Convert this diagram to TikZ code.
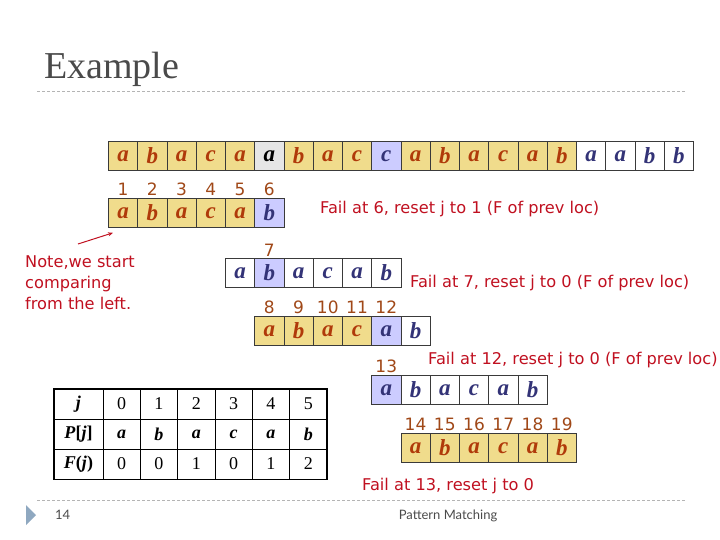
\documentclass[tikz,border=0pt]{standalone}
\usepackage{fontspec}
\setmainfont{Liberation Serif}
\newfontfamily\notefont{DejaVu Sans}
\newfontfamily\footfont{Lato}
\usepackage{xcolor}
\usepackage{tikz}
\usetikzlibrary{arrows.meta,positioning}
\tikzset{>=stealth}

\definecolor{matchfill}{HTML}{F0DC8C}
\definecolor{failfill}{HTML}{CCCCFF}
\definecolor{seenfill}{HTML}{E6E6E6}
\definecolor{cellline}{HTML}{3A3A3A}
\definecolor{matchink}{HTML}{B03A0A}
\definecolor{idleink}{HTML}{333377}
\definecolor{numink}{HTML}{A04818}
\definecolor{failink}{HTML}{C01020}
\definecolor{rulegray}{HTML}{B4B4B4}
\definecolor{titlegray}{HTML}{4A4A4A}
\definecolor{bullet}{HTML}{8FA8C0}

\begin{document}
\begin{tikzpicture}[
		x=1pt, y=-1pt,
		cell/.style={draw=cellline, line width=0.8pt, minimum width=29.25pt,
			minimum height=29pt, inner sep=0pt, anchor=north west,
			font=\fontsize{23}{23}\selectfont\bfseries\itshape},
		matchcell/.style={cell, fill=matchfill, text=matchink},
		failcell/.style={cell, fill=failfill, text=idleink},
		seencell/.style={cell, fill=seenfill, text=black},
		idlecell/.style={cell, fill=white, text=idleink},
		num/.style={font=\notefont\fontsize{17}{17}\selectfont, text=numink,
			anchor=base, inner sep=0pt},
		failnote/.style={font=\notefont\fontsize{16.2}{21}\selectfont, text=failink,
			anchor=base west, inner sep=0pt, align=left},
		tcell/.style={draw=black, line width=0.6pt, minimum width=37.33pt,
			minimum height=30pt, inner sep=0pt, font=\fontsize{18}{18}\selectfont},
		thead/.style={tcell, minimum width=49pt},
		rule/.style={rulegray, line width=0.7pt, dash pattern=on 3pt off 2pt}
		]
		\useasboundingbox (0,0) rectangle (720,540);
		
		% Title
		\node[anchor=base west, inner sep=0pt, text=titlegray,
		font=\fontsize{38}{38}\selectfont] (title) at (44,79) {Example};
		\coordinate (toprulel) at (37,91);
		\coordinate (topruler) at (685,91);
		\draw[rule] (toprulel) -- (topruler);
		
		% Text
		\foreach \ch/\st [count=\i from 0] in {a/matchcell,b/matchcell,a/matchcell,
			c/matchcell,a/matchcell,a/seencell,b/matchcell,a/matchcell,c/matchcell,
			c/failcell,a/matchcell,b/matchcell,a/matchcell,c/matchcell,a/matchcell,
			b/matchcell,a/idlecell,a/idlecell,b/idlecell,b/idlecell}
		\node[\st] (txt\i) at ({108+\i*29.25},141) {\ch};
		
		% Shift 1: positions 1-6
		\foreach \ch/\st [count=\i from 0] in {a/matchcell,b/matchcell,a/matchcell,
			c/matchcell,a/matchcell,b/failcell}
		\node[\st] (pa\i) at ({108+\i*29.25},198) {\ch};
		\foreach \n [count=\i from 0] in {1,...,6}
		\node[num] (na\i) at ([yshift=2pt]pa\i.north) {\n};
		\node[failnote] (faila) at (320,214) {Fail at 6, reset j to 1 (F of prev loc)};
		
		% Shift 2: position 7
		\foreach \ch/\st [count=\i from 0] in {a/idlecell,b/failcell,a/idlecell,
			c/idlecell,a/idlecell,b/idlecell}
		\node[\st] (pb\i) at ({225+\i*29.25},258) {\ch};
		\node[num] (nb1) at ([yshift=2pt]pb1.north) {7};
		\node[failnote] (failb) at (410,287) {Fail at 7, reset j to 0 (F of prev loc)};
		
		% Shift 3: positions 8-12
		\foreach \ch/\st [count=\i from 0] in {a/matchcell,b/matchcell,a/matchcell,
			c/matchcell,a/failcell,b/idlecell}
		\node[\st] (pc\i) at ({254.25+\i*29.25},316) {\ch};
		\foreach \n [count=\i from 0] in {8,...,12}
		\node[num] (nc\i) at ([yshift=3pt]pc\i.north) {\n};
		\node[failnote] (failc) at (428,364) {Fail at 12, reset j to 0 (F of prev loc)};
		
		% Shift 4: position 13
		\foreach \ch/\st [count=\i from 0] in {a/failcell,b/idlecell,a/idlecell,
			c/idlecell,a/idlecell,b/idlecell}
		\node[\st] (pd\i) at ({371.25+\i*29.25},375) {\ch};
		\node[num] (nd0) at ([yshift=3pt]pd0.north) {13};
		
		% Shift 5: positions 14-19
		\foreach \ch [count=\i from 0] in {a,b,a,c,a,b}
		\node[matchcell] (pe\i) at ({400.5+\i*29.25},433) {\ch};
		\foreach \n [count=\i from 0] in {14,...,19}
		\node[num] (ne\i) at ([yshift=3pt]pe\i.north) {\n};
		\node[failnote] (faild) at (362,490) {Fail at 13, reset j to 0};
		
		% Note with arrow
		\node[failnote] (note) at (25,309) {Note,we start\\comparing\\from the left.};
		\coordinate (notetail) at (78,244);
		\coordinate (notehead) at ([shift={(5pt,-5pt)}]pa0.south west);
		\draw[failink, line width=1pt, -{Stealth[length=5pt,width=4pt]}]
		(notetail) -- (notehead);
		
		% Failure function table
		\node[thead] (tj0) at (78.5,404) {\textbf{\textit{j}}};
		\node[thead] (tp0) at (78.5,434) {\textbf{\textit{P}[\textit{j}]}};
		\node[thead] (tf0) at (78.5,464) {\textbf{\textit{F}(\textit{j})}};
		\foreach \v [count=\c] in {0,...,5}
		\node[tcell] (tj\c) at ({103+(\c-0.5)*37.33},404) {\v};
		\foreach \v [count=\c] in {a,b,a,c,a,b}
		\node[tcell] (tp\c) at ({103+(\c-0.5)*37.33},434) {\textbf{\textit{\v}}};
		\foreach \v [count=\c] in {0,0,1,0,1,2}
		\node[tcell] (tf\c) at ({103+(\c-0.5)*37.33},464) {\v};
		\draw[line width=1.6pt] (tj0.north west) rectangle (tf6.south east);
		
		% Footer
		\coordinate (botrulel) at (37,500);
		\coordinate (botruler) at (685,500);
		\draw[rule] (botrulel) -- (botruler);
		\fill[bullet] (26,505) -- (36,515) -- (26,525) -- cycle;
		\node[anchor=base west, inner sep=0pt, text=titlegray,
		font=\footfont\fontsize{13}{13}\selectfont] (page) at (55,519) {14};
		\node[anchor=base, inner sep=0pt, text=titlegray,
		font=\footfont\fontsize{13}{13}\selectfont] (footer) at (448,519) {Pattern Matching};
		
\end{tikzpicture}
\end{document}
